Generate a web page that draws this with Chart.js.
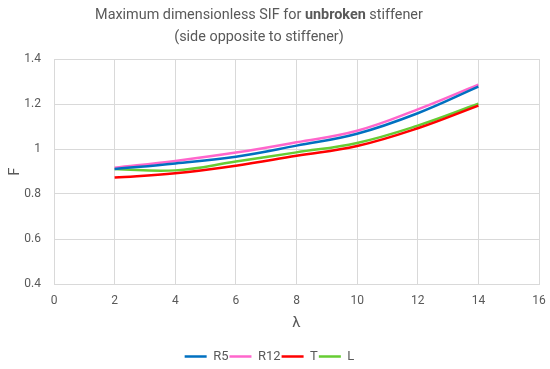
<!DOCTYPE html>
<html>
<head>
<meta charset="utf-8">
<script src="https://cdn.jsdelivr.net/npm/chart.js@4"></script>
<style>
  html, body { margin: 0; padding: 0; background: #fff; }
  #wrap { position: relative; width: 550px; height: 369px; }
  #title {
    position: absolute; left: 0; top: 4px; width: 518px;
    text-align: center; font-family: Roboto, sans-serif; font-size: 14.4px;
    line-height: 22px; color: #595959;
  }
  #title b { font-weight: 700; }
</style>
</head>
<body>
<div id="wrap">
  <canvas id="chart" width="550" height="369"></canvas>
  <div id="title">Maximum dimensionless SIF for <b>unbroken</b> stiffener<br>(side opposite to stiffener)</div>
</div>
<script>
// データ
const lambda = [2, 4, 6, 8, 10, 12, 14];
const seriesNames = ['R5', 'R12', 'T', 'L'];
const r5  = [0.911, 0.936, 0.966, 1.015, 1.068, 1.159, 1.277];
const r12 = [0.917, 0.947, 0.984, 1.030, 1.081, 1.176, 1.286];
const t   = [0.873, 0.892, 0.926, 0.970, 1.013, 1.092, 1.193];
const l   = [0.911, 0.905, 0.944, 0.985, 1.027, 1.104, 1.201];
const seriesColors = ['#0070C0', '#FF66CC', '#FF0000', '#66CC33'];

const xTicks = [0, 2, 4, 6, 8, 10, 12, 14, 16];
const yTicks = [0.4, 0.6, 0.8, 1.0, 1.2, 1.4];

const textColor = '#595959';
const gridColor = '#d9d9d9';
const fontFamily = 'Roboto, sans-serif';

function toPoints(values) {
    return lambda.map((x, i) => ({ x: x, y: values[i] }));
}

const datasets = [r5, r12, t, l].map((values, i) => ({
    label: seriesNames[i],
    data: toPoints(values),
    borderColor: seriesColors[i],
    backgroundColor: seriesColors[i],
    borderWidth: 2.5,
    pointRadius: 0,
    tension: 0.4,
    fill: false
}));

new Chart(document.getElementById('chart'), {
    type: 'line',
    data: { datasets: datasets },
    options: {
        responsive: false,
        animation: false,
        // 凡例を少し下げるため bottom は負の値
        layout: { padding: { top: 59, right: 11, left: 0, bottom: -4 } },
        plugins: {
            title: { display: false },
            tooltip: { enabled: false },
            legend: {
                position: 'bottom',
                labels: {
                    usePointStyle: true,
                    pointStyle: 'line',
                    pointStyleWidth: 22,
                    padding: 1,
                    color: textColor,
                    font: { family: fontFamily, size: 13 }
                }
            }
        },
        scales: {
            x: {
                type: 'linear',
                min: xTicks[0],
                max: xTicks[xTicks.length - 1],
                afterBuildTicks: scale => { scale.ticks = xTicks.map(v => ({ value: v })); },
                afterFit: scale => { scale.height = 65; },
                // 目盛り線は透明にしてラベル位置の調整だけに使う
                grid: { color: gridColor, drawTicks: true, tickLength: 10, tickColor: 'rgba(0,0,0,0)' },
                border: { color: gridColor },
                ticks: {
                    padding: 0,
                    color: textColor,
                    font: { family: fontFamily, size: 12 },
                    callback: v => String(v)
                },
                title: {
                    display: true,
                    text: 'λ',
                    color: textColor,
                    font: { family: fontFamily, size: 15 },
                    padding: { top: 4, bottom: 17 }
                }
            },
            y: {
                min: yTicks[0],
                max: yTicks[yTicks.length - 1],
                afterBuildTicks: scale => { scale.ticks = yTicks.map(v => ({ value: v })); },
                afterFit: scale => { scale.width = 54; },
                grid: { color: gridColor, drawTicks: false },
                border: { color: gridColor },
                ticks: {
                    padding: 13,
                    color: textColor,
                    font: { family: fontFamily, size: 12 },
                    callback: v => String(+v.toFixed(1))
                },
                title: {
                    display: true,
                    text: 'F',
                    color: textColor,
                    font: { family: fontFamily, size: 15 },
                    padding: { top: 6, bottom: 0 }
                }
            }
        }
    }
});
</script>
</body>
</html>
